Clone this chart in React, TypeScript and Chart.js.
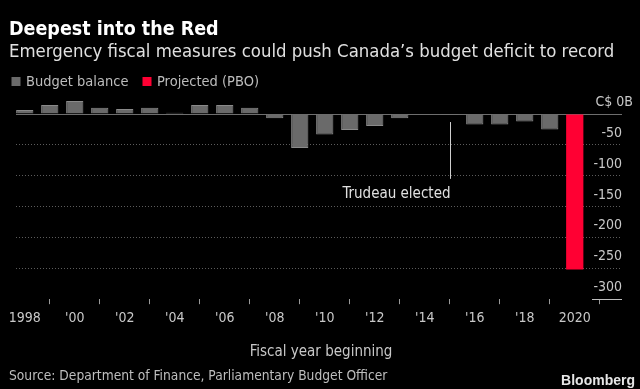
import React, { useEffect, useRef } from "react";
import { Chart, registerables } from "chart.js";

Chart.register(...registerables);

const balanceYears = [1998, 1999, 2000, 2001, 2002, 2003, 2004, 2005, 2006, 2007, 2008, 2009, 2010, 2011, 2012, 2013, 2014, 2015, 2016, 2017, 2018, 2019];
const balanceValues = [6.5, 14.5, 21, 10, 8, 10, 2, 14.5, 14.5, 10, -7, -55, -33, -26, -19.5, -7, 0, -1, -17, -17, -12, -25];
const projectedYears = [2020];
const projectedValues = [-252];
const tickYears = [1998, 2000, 2002, 2004, 2006, 2008, 2010, 2012, 2014, 2016, 2018, 2020];
const tickLabels = ["1998", "'00", "'02", "'04", "'06", "'08", "'10", "'12", "'14", "'16", "'18", "2020"];
const yTicks = [0, -50, -100, -150, -200, -250, -300];
const yTickLabels = ["C$ 0B", "-50", "-100", "-150", "-200", "-250", "-300"];
const annotationYear = 2015;
const annotationText = "Trudeau elected";

const FONT = "'DejaVu Sans Condensed', 'DejaVu Sans', sans-serif";

const textPlugin = {
  id: "bbgText",
  afterDraw(chart: any) {
    const ctx = chart.ctx as CanvasRenderingContext2D;
    const x = chart.scales.x;
    const y = chart.scales.y;
    ctx.save();
    ctx.textBaseline = "alphabetic";
    // title
    ctx.fillStyle = "#ffffff";
    ctx.font = `bold 19.5px ${FONT}`;
    ctx.textAlign = "left";
    ctx.fillText("Deepest into the Red", 9, 34.5);
    ctx.fillStyle = "#e0e0e0";
    ctx.font = `18.4px ${FONT}`;
    ctx.fillText("Emergency fiscal measures could push Canada\u2019s budget deficit to record", 9, 56.5);
    // legend
    ctx.font = `14.5px ${FONT}`;
    ctx.fillStyle = "#6a6a6a";
    ctx.fillRect(11.5, 77, 9, 9);
    ctx.fillStyle = "#bdbdbd";
    ctx.fillText("Budget balance", 26, 86);
    ctx.fillStyle = "#ff0033";
    ctx.fillRect(142.5, 77, 9, 9);
    ctx.fillStyle = "#bdbdbd";
    ctx.fillText("Projected (PBO)", 157, 86);
    // y labels
    ctx.font = `14px ${FONT}`;
    ctx.fillStyle = "#c8c8c8";
    ctx.textAlign = "right";
    yTicks.forEach((v, i) => {
      const py = y.getPixelForValue(v);
      const px = v === 0 ? 633 : 622;
      ctx.fillText(yTickLabels[i], px, py - 8);
    });
    // bottom short axis line under -300
    const pb = Math.round(y.getPixelForValue(-300)) + 0.5;
    ctx.strokeStyle = "#bdbdbd";
    ctx.lineWidth = 1;
    ctx.beginPath();
    ctx.moveTo(592, pb);
    ctx.lineTo(622, pb);
    ctx.stroke();
    // annotation
    const ax = Math.round(x.getPixelForValue(annotationYear)) + 0.5;
    ctx.strokeStyle = "#cfcfcf";
    ctx.beginPath();
    ctx.moveTo(ax, y.getPixelForValue(-13));
    ctx.lineTo(ax, y.getPixelForValue(-105));
    ctx.stroke();
    ctx.font = `15px ${FONT}`;
    ctx.fillStyle = "#e0e0e0";
    ctx.textAlign = "right";
    ctx.fillText(annotationText, ax, 197.5);
    // axis title
    ctx.font = `15px ${FONT}`;
    ctx.fillStyle = "#c8c8c8";
    ctx.textAlign = "center";
    ctx.fillText("Fiscal year beginning", 321, 356);
    // source
    ctx.font = `13.7px ${FONT}`;
    ctx.textAlign = "left";
    ctx.fillStyle = "#bdbdbd";
    ctx.fillText("Source: Department of Finance, Parliamentary Budget Officer", 9, 379.5);
    // logo
    ctx.textAlign = "right";
    ctx.fillStyle = "#e6e6e6";
    ctx.font = `bold 14px 'Liberation Sans', Arial, sans-serif`;
    ctx.fillText("Bloomberg", 635, 385);
    ctx.restore();
  },
};

export default function App() {
  const ref = useRef<HTMLCanvasElement | null>(null);
  useEffect(() => {
    if (!ref.current) return;
    const chart = new Chart(ref.current, {
      type: "bar",
      data: {
        datasets: [
          {
            label: "Budget balance",
            data: balanceYears.map((yr, i) => ({ x: yr, y: balanceValues[i] })),
            backgroundColor: "#6a6a6a",
            borderColor: "#8a8a8a",
            borderWidth: 1,
            grouped: false,
            barPercentage: 0.69,
            categoryPercentage: 1,
          },
          {
            label: "Projected (PBO)",
            data: projectedYears.map((yr, i) => ({ x: yr, y: projectedValues[i] })),
            backgroundColor: "#ff0033",
            borderWidth: 0,
            grouped: false,
            barPercentage: 0.69,
            categoryPercentage: 1,
          },
        ],
      },
      options: {
        animation: false,
        responsive: false,
        maintainAspectRatio: false,
        layout: { padding: { left: 16, right: 18, top: 95.5, bottom: 56 } },
        plugins: { legend: { display: false }, tooltip: { enabled: false }, title: { display: false } },
        scales: {
          x: {
            type: "linear",
            min: 1997.65,
            max: 2021.89,
            offset: false,
            afterBuildTicks: (axis: any) => {
              axis.ticks = tickYears.map((v) => ({ value: v }));
            },
            grid: { display: true, drawOnChartArea: false, drawTicks: true, tickLength: 5, tickColor: "#9a9a9a", color: "#9a9a9a" },
            border: { display: false },
            ticks: {
              autoSkip: false,
              maxRotation: 0,
              minRotation: 0,
              padding: 6,
              color: "#c8c8c8",
              font: { family: FONT, size: 14 },
              callback: (v: any) => {
                const i = tickYears.indexOf(Number(v));
                return i >= 0 ? tickLabels[i] : "";
              },
            },
          },
          y: {
            type: "linear",
            position: "right",
            min: -300,
            max: 30,
            afterBuildTicks: (axis: any) => {
              axis.ticks = yTicks.map((v) => ({ value: v }));
            },
            grid: {
              drawTicks: false,
              color: (c: any) => (c.tick && c.tick.value === -300 ? "rgba(0,0,0,0)" : c.tick && c.tick.value === 0 ? "#6e6e6e" : "#5c5c5c"),
              lineWidth: 1,
            },
            border: {
              display: false,
              dash: (c: any) => (c.tick && c.tick.value === 0 ? [] : [1, 2]),
            },
            ticks: { display: false },
          },
        },
      },
      plugins: [textPlugin],
    });
    return () => chart.destroy();
  }, []);
  return (
    <div style={{ position: "fixed", left: 0, top: 0, width: 640, height: 389, background: "#000" }}>
      <canvas ref={ref} width={640} height={389} style={{ display: "block" }} />
    </div>
  );
}
